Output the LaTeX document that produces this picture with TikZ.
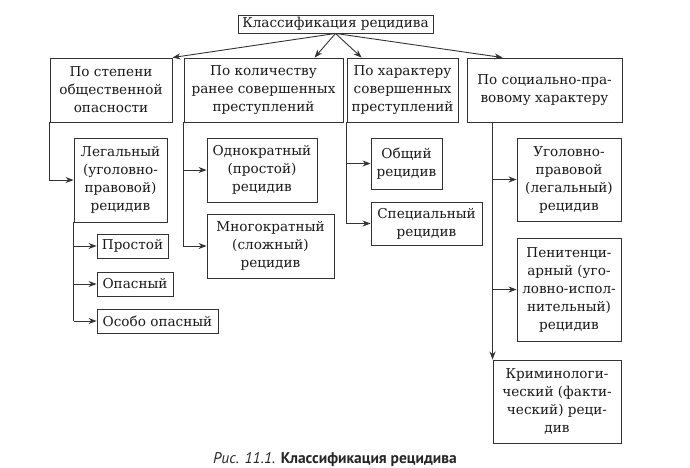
\documentclass[tikz,border=0pt]{standalone}
\usepackage{fontspec}
\setmainfont{DejaVu Serif}
\newfontfamily\capfont{PT Sans}
\usetikzlibrary{arrows.meta,calc}
\tikzset{
  box/.style={draw=black!80, line width=0.9pt, inner sep=0pt, align=center,
    font=\fontsize{13.6}{18}\selectfont, text=black!90},
  arr/.style={draw=black!80, line width=0.9pt, -{Stealth[length=8pt,width=6pt]}},
  ln/.style={draw=black!80, line width=0.9pt}
}
\begin{document}
\begin{tikzpicture}[x=1pt,y=-1pt]
\clip (0,0) rectangle (690,467);
\useasboundingbox (0,0) rectangle (690,467);
\node[box, minimum width=195pt, minimum height=18pt] (top) at (335.5,24) {Классификация рецидива};
\node[box, minimum width=122pt, minimum height=64pt] (b1) at (111,90) {По степени\\общественной\\опасности};
\node[box, minimum width=159pt, minimum height=64pt] (b2) at (263.5,90) {По количеству\\ранее совершенных\\преступлений};
\node[box, minimum width=111pt, minimum height=64pt] (b3) at (402.5,90) {По характеру\\совершенных\\преступлений};
\node[box, minimum width=155pt, minimum height=64pt] (b4) at (544.5,90) {По социально-пра-\\вовому характеру};
\node[box, minimum width=93pt, minimum height=84pt] (legal) at (120.5,180) {Легальный\\(уголовно-\\правовой)\\рецидив};
\node[box, minimum width=71pt, minimum height=24pt] (prost) at (132.5,246) {Простой};
\node[box, minimum width=76pt, minimum height=24pt] (opas) at (135,284) {Опасный};
\node[box, minimum width=121pt, minimum height=24pt] (osobo) at (157.5,321) {Особо опасный};
\node[box, minimum width=110pt, minimum height=64pt] (odn) at (262,170) {Однократный\\(простой)\\рецидив};
\node[box, minimum width=127pt, minimum height=64pt] (mnog) at (270.5,246) {Многократный\\(сложный)\\рецидив};
\node[box, minimum width=71pt, minimum height=51pt] (obsh) at (406.5,163.5) {Общий\\рецидив};
\node[box, minimum width=111pt, minimum height=43pt] (spec) at (426.5,223.5) {Специальный\\рецидив};
\node[box, minimum width=104pt, minimum height=83pt] (ug) at (569,179.5) {Уголовно-\\правовой\\(легальный)\\рецидив};
\node[box, minimum width=104pt, minimum height=103pt] (pen) at (569,289.5) {Пенитенци-\\арный (уго-\\ловно-испол-\\нительный)\\рецидив};
\node[box, minimum width=128pt, minimum height=83pt] (krim) at (557,401.5) {Криминологи-\\ческий (факти-\\ческий) реци-\\див};
\node[anchor=base, font=\capfont\fontsize{15.5}{17}\selectfont, text=black!85] (cap) at (335,463.5) {\textit{Рис. 11.1.} \textbf{Классификация рецидива}};
% top arrows
\draw[arr] (top.south) -- (b1.north east);
\draw[arr] (top.south) -- ($(b2.north west)+(131,0)$);
\draw[arr] (top.south) -- ($(b3.north west)+(15,0)$);
\draw[arr] (top.south) -- ($(b4.north west)+(36,0)$);
% b1
\draw[arr] (b1.south west) |- (legal.west);
\draw[ln] (legal.south west) -- (legal.south west |- osobo.west);
\draw[arr] (legal.south west |- prost.west) -- (prost.west);
\draw[arr] (legal.south west |- opas.west) -- (opas.west);
\draw[arr] (legal.south west |- osobo.west) -- (osobo.west);
% b2
\draw[arr] (b2.south west) |- (odn.west);
\draw[arr] (b2.south west) |- (mnog.west);
% b3
\draw[arr] (b3.south west) |- (obsh.west);
\draw[arr] (b3.south west) |- (spec.west);
% b4
\draw[arr] (krim.north west |- b4.south) -- (krim.north west);
\draw[arr] (krim.north west |- ug.west) -- (ug.west);
\draw[arr] (krim.north west |- pen.west) -- (pen.west);
\end{tikzpicture}
\end{document}
